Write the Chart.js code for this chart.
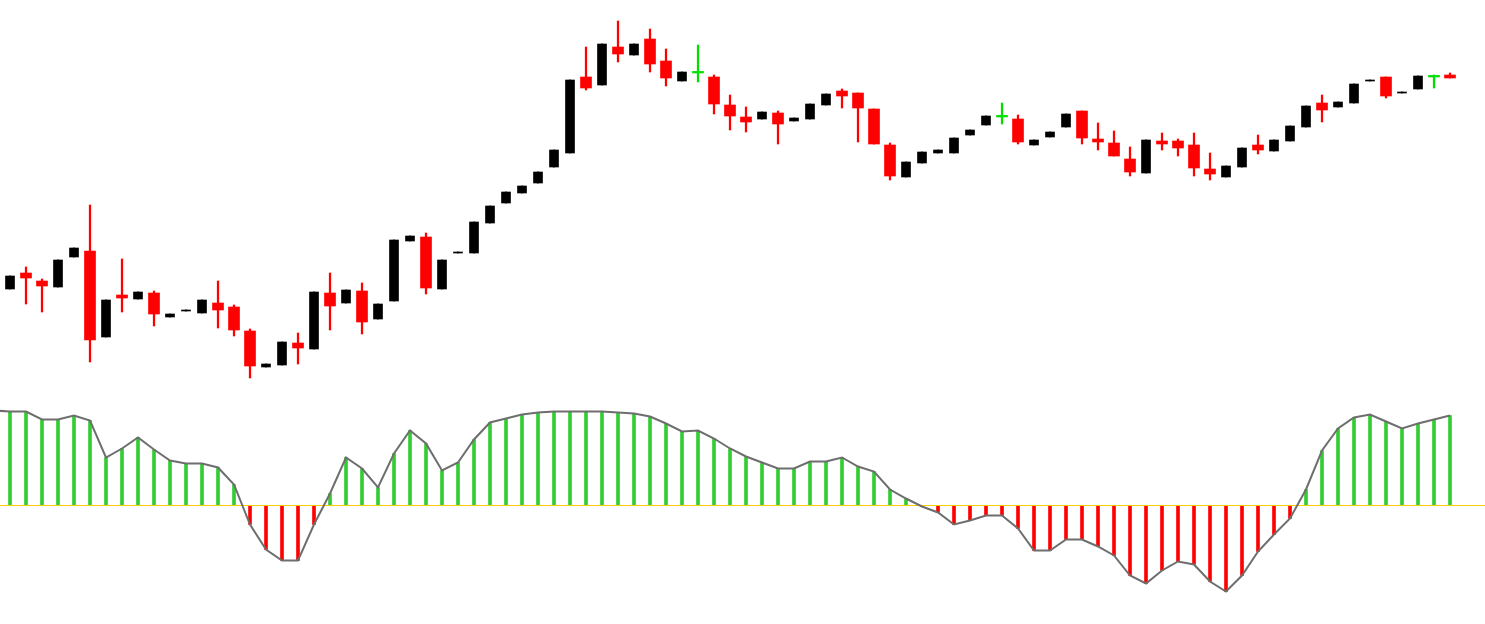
<!DOCTYPE html>
<html>
<head>
<meta charset="utf-8">
<script src="https://cdn.jsdelivr.net/npm/chart.js@4.4.1/dist/chart.umd.min.js"></script>
<style>
  html, body { margin: 0; padding: 0; background: #fff; }
  #wrap { width: 1485px; height: 624px; position: relative; }
</style>
</head>
<body>
<div id="wrap"><canvas id="chart"></canvas></div>
<script>
// candle data (price)
const opens = [1.1111,1.1127,1.1119,1.1113,1.1143,1.1149,1.1063,1.1105,1.1101,1.1107,
  1.1083,1.1089,1.1087,1.1097,1.1093,1.1069,1.1033,1.1035,1.1057,1.1051,
  1.1107,1.1097,1.1109,1.1081,1.1099,1.1159,1.1163,1.1111,1.1147,1.1147,
  1.1177,1.1197,1.1207,1.1217,1.1233,1.1247,1.1323,1.1315,1.1353,1.1345,
  1.1361,1.1339,1.1319,1.1327,1.1323,1.1295,1.1283,1.1281,1.1287,1.1279,
  1.1281,1.1295,1.1309,1.1307,1.1291,1.1255,1.1223,1.1237,1.1247,1.1247,
  1.1265,1.1275,1.1283,1.1281,1.1255,1.1263,1.1273,1.1289,1.1261,1.1257,
  1.1241,1.1227,1.1259,1.1259,1.1255,1.1231,1.1223,1.1233,1.1255,1.1249,
  1.1259,1.1273,1.1297,1.1293,1.1297,1.1319,1.1323,1.1307,1.1311,1.1323,
  1.1325];
const highs = [1.1124,1.1133,1.1121,1.1140,1.1152,1.1195,1.1100,1.1141,1.1108,1.1109,
  1.1086,1.1090,1.1100,1.1119,1.1095,1.1071,1.1036,1.1058,1.1067,1.1108,
  1.1127,1.1110,1.1117,1.1096,1.1160,1.1164,1.1167,1.1140,1.1148,1.1178,
  1.1194,1.1208,1.1214,1.1228,1.1250,1.1320,1.1353,1.1356,1.1379,1.1356,
  1.1371,1.1351,1.1328,1.1355,1.1325,1.1305,1.1293,1.1288,1.1289,1.1282,
  1.1296,1.1306,1.1311,1.1307,1.1291,1.1257,1.1238,1.1248,1.1250,1.1262,
  1.1270,1.1284,1.1297,1.1285,1.1260,1.1268,1.1286,1.1289,1.1277,1.1269,
  1.1253,1.1260,1.1267,1.1261,1.1267,1.1247,1.1234,1.1252,1.1265,1.1260,
  1.1274,1.1294,1.1305,1.1298,1.1316,1.1320,1.1323,1.1308,1.1324,1.1325,
  1.1327];
const lows = [1.1111,1.1096,1.1088,1.1113,1.1143,1.1038,1.1063,1.1088,1.1101,1.1074,
  1.1083,1.1089,1.1087,1.1072,1.1064,1.1022,1.1033,1.1035,1.1036,1.1051,
  1.1070,1.1097,1.1066,1.1081,1.1099,1.1159,1.1106,1.1111,1.1147,1.1147,
  1.1177,1.1197,1.1207,1.1217,1.1233,1.1247,1.1310,1.1315,1.1338,1.1345,
  1.1328,1.1314,1.1319,1.1318,1.1286,1.1270,1.1268,1.1281,1.1256,1.1279,
  1.1281,1.1295,1.1292,1.1258,1.1256,1.1220,1.1223,1.1237,1.1247,1.1247,
  1.1265,1.1275,1.1276,1.1256,1.1255,1.1263,1.1273,1.1256,1.1250,1.1244,
  1.1224,1.1227,1.1250,1.1244,1.1224,1.1220,1.1223,1.1233,1.1246,1.1249,
  1.1259,1.1273,1.1278,1.1293,1.1297,1.1319,1.1302,1.1307,1.1311,1.1312,
  1.1322];
const closes = [1.1124,1.1122,1.1114,1.1140,1.1152,1.1060,1.1100,1.1102,1.1108,1.1086,
  1.1086,1.1090,1.1100,1.1090,1.1070,1.1034,1.1036,1.1058,1.1052,1.1108,
  1.1094,1.1110,1.1078,1.1096,1.1160,1.1164,1.1112,1.1140,1.1148,1.1178,
  1.1194,1.1208,1.1214,1.1228,1.1250,1.1320,1.1312,1.1356,1.1346,1.1356,
  1.1336,1.1322,1.1328,1.1327,1.1296,1.1284,1.1278,1.1288,1.1276,1.1282,
  1.1296,1.1306,1.1304,1.1292,1.1256,1.1224,1.1238,1.1248,1.1250,1.1262,
  1.1270,1.1284,1.1283,1.1258,1.1260,1.1268,1.1286,1.1262,1.1258,1.1244,
  1.1228,1.1260,1.1256,1.1252,1.1232,1.1226,1.1234,1.1252,1.1250,1.1260,
  1.1274,1.1294,1.1290,1.1298,1.1316,1.1320,1.1304,1.1308,1.1324,1.1323,
  1.1322];

// oscillator (histogram + signal line), oscLead is the bar before the first visible one
const oscLead = 0.95;
const osc = [0.94,0.94,0.86,0.86,0.90,0.85,0.48,0.57,0.68,0.56,
  0.45,0.42,0.42,0.38,0.21,-0.19,-0.44,-0.55,-0.55,-0.19,
  0.12,0.48,0.37,0.18,0.52,0.75,0.62,0.35,0.43,0.66,
  0.83,0.87,0.91,0.93,0.94,0.94,0.94,0.94,0.93,0.92,
  0.89,0.82,0.74,0.75,0.67,0.57,0.49,0.43,0.37,0.37,
  0.44,0.44,0.48,0.39,0.34,0.16,0.07,-0.01,-0.07,-0.19,
  -0.15,-0.10,-0.10,-0.23,-0.45,-0.45,-0.34,-0.34,-0.41,-0.50,
  -0.70,-0.78,-0.65,-0.56,-0.59,-0.76,-0.86,-0.70,-0.46,-0.29,
  -0.13,0.16,0.55,0.77,0.88,0.91,0.84,0.77,0.82,0.86,
  0.90];

const UP = '#000000', DOWN = '#ff0000', FLAT = '#00e000';
const kind = opens.map((o, i) => closes[i] > o ? 'up' : (closes[i] < o ? 'down' : 'flat'));
const colorOf = k => k === 'up' ? UP : (k === 'down' ? DOWN : FLAT);

const wicks = opens.map((o, i) => ({ x: i, y: [lows[i], highs[i]] }));
const upBodies = [], downBodies = [], flatBodies = [];
opens.forEach((o, i) => {
  const p = { x: i, y: [o, closes[i]] };
  if (kind[i] === 'up') upBodies.push(p);
  else if (kind[i] === 'down') downBodies.push(p);
  else flatBodies.push(p);
});

const hist = osc.map((v, i) => ({ x: i, y: v }));
const oscLine = [{ x: -1, y: oscLead }].concat(hist);

new Chart(document.getElementById('chart'), {
  type: 'bar',
  data: {
    datasets: [
      { type: 'bar', data: wicks, yAxisID: 'y', barThickness: 1.6, order: 9,
        backgroundColor: wicks.map((w, i) => colorOf(kind[i])), grouped: false },
      { type: 'bar', data: upBodies, yAxisID: 'y', barThickness: 9, order: 8,
        backgroundColor: UP, minBarLength: 1, grouped: false },
      { type: 'bar', data: downBodies, yAxisID: 'y', barThickness: 11, order: 7,
        backgroundColor: DOWN, minBarLength: 1, grouped: false },
      { type: 'bar', data: flatBodies, yAxisID: 'y', barThickness: 11, order: 6,
        backgroundColor: FLAT, minBarLength: 1.6, grouped: false },
      { type: 'bar', data: hist, yAxisID: 'y2', barThickness: 3, order: 5, grouped: false,
        backgroundColor: osc.map(v => v >= 0 ? '#33cc33' : '#ff0000') },
      { type: 'line', data: [{ x: -1, y: 0 }, { x: 93, y: 0 }], yAxisID: 'y2', order: 3,
        borderColor: '#f5d000', borderWidth: 1, pointRadius: 0 },
      { type: 'line', data: oscLine, yAxisID: 'y2', order: 1,
        borderColor: '#6e6e6e', borderWidth: 2, pointRadius: 0, tension: 0 }
    ]
  },
  options: {
    responsive: true,
    maintainAspectRatio: false,
    animation: false,
    layout: { padding: 0 },
    plugins: { legend: { display: false }, tooltip: { enabled: false } },
    scales: {
      x: { type: 'linear', min: -0.625, max: 92.1875, display: false, offset: false },
      y: { type: 'linear', min: 1.0776, max: 1.1400, display: false },
      y2: { type: 'linear', min: -1.185, max: 5.055, display: false }
    }
  }
});
</script>
</body>
</html>
